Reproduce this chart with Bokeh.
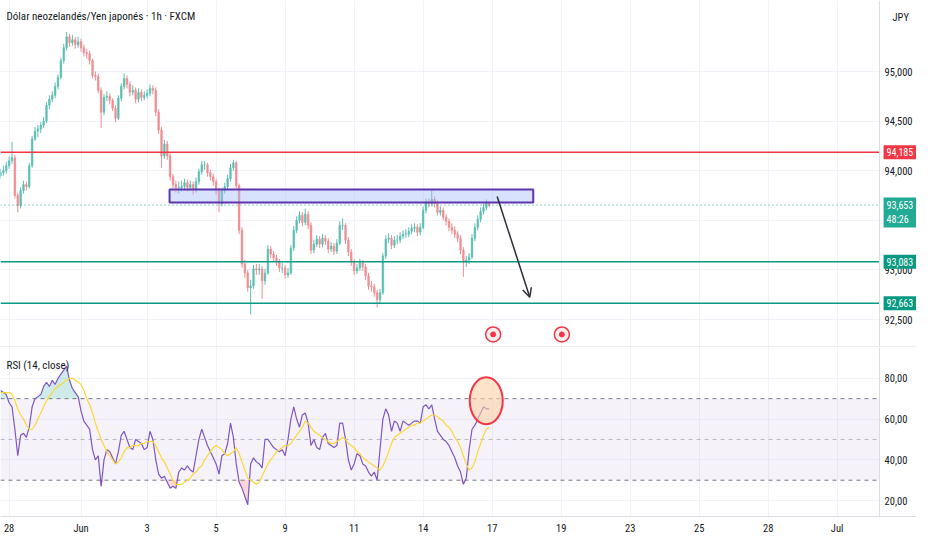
from bokeh.plotting import figure
from bokeh.layouts import column
from bokeh.models import (Range1d, FixedTicker, Label, Arrow, OpenHead,
                          CustomJSTickFormatter)
from bokeh.embed import file_html
from bokeh.resources import INLINE

# ---------------- data ----------------
BAR_HOURS = 2          # one candle = 2 hours
first_open = 93.95

close = [
    93.98, 94.00, 94.05, 94.10, 94.13, 93.75, 93.65, 93.80, 93.86, 93.84,
    94.05, 94.32, 94.40, 94.42, 94.46, 94.50, 94.66, 94.72, 94.76, 94.85,
    94.94, 95.11, 95.24, 95.35, 95.29, 95.32, 95.27, 95.30, 95.24, 95.19,
    95.18, 95.11, 94.96, 94.95, 94.81, 94.59, 94.74, 94.75, 94.71, 94.63,
    94.53, 94.73, 94.85, 94.93, 94.87, 94.79, 94.81, 94.72, 94.79, 94.74,
    94.76, 94.78, 94.83, 94.81, 94.59, 94.41, 94.15, 94.27, 94.15, 93.94,
    93.86, 93.83, 93.83, 93.84, 93.88, 93.83, 93.86, 93.81, 93.89, 93.99,
    94.06, 94.06, 93.98, 93.94, 93.89, 93.80, 93.67, 93.80, 93.84, 93.92,
    94.03, 94.08, 93.85, 93.40, 93.06, 92.97, 92.82, 92.84, 93.01, 93.00,
    93.01, 92.89, 92.97, 93.21, 93.16, 93.12, 93.08, 93.02, 93.02, 92.95,
    92.97, 93.22, 93.40, 93.50, 93.55, 93.48, 93.56, 93.45, 93.20, 93.26,
    93.31, 93.26, 93.32, 93.29, 93.21, 93.24, 93.19, 93.27, 93.45, 93.45,
    93.30, 93.18, 93.08, 92.99, 93.02, 93.07, 93.03, 92.94, 92.84, 92.83,
    92.77, 92.70, 92.77, 93.14, 93.31, 93.32, 93.25, 93.30, 93.30, 93.34,
    93.36, 93.36, 93.39, 93.42, 93.43, 93.38, 93.43, 93.60, 93.68, 93.67,
    93.71, 93.67, 93.58, 93.60, 93.53, 93.49, 93.43, 93.40, 93.36, 93.32,
    93.20, 93.08, 93.10, 93.13, 93.32, 93.43, 93.51, 93.59, 93.63, 93.67,
    93.653]

high = [
    94.02, 94.05, 94.09, 94.14, 94.29, 94.16, 93.78, 93.83, 93.90, 93.89,
    94.08, 94.35, 94.44, 94.46, 94.49, 94.54, 94.69, 94.76, 94.80, 94.89,
    94.97, 95.14, 95.28, 95.40, 95.38, 95.37, 95.35, 95.35, 95.33, 95.27,
    95.23, 95.21, 95.13, 95.00, 94.98, 94.84, 94.77, 94.80, 94.78, 94.73,
    94.66, 94.76, 94.88, 94.98, 94.96, 94.90, 94.86, 94.84, 94.83, 94.82,
    94.80, 94.82, 94.87, 94.86, 94.84, 94.62, 94.44, 94.31, 94.30, 94.18,
    93.97, 93.90, 93.89, 93.90, 93.92, 93.91, 93.90, 93.89, 93.93, 94.02,
    94.10, 94.10, 94.08, 94.01, 93.97, 93.92, 93.83, 93.83, 93.88, 93.96,
    94.07, 94.11, 94.10, 93.87, 93.43, 93.10, 93.00, 92.90, 93.05, 93.06,
    93.06, 93.04, 93.01, 93.25, 93.24, 93.19, 93.15, 93.11, 93.07, 93.05,
    93.02, 93.25, 93.44, 93.54, 93.59, 93.58, 93.62, 93.59, 93.48, 93.30,
    93.35, 93.34, 93.36, 93.35, 93.32, 93.28, 93.27, 93.31, 93.49, 93.52,
    93.47, 93.33, 93.21, 93.11, 93.06, 93.11, 93.10, 93.06, 92.97, 92.89,
    92.86, 92.80, 92.81, 93.17, 93.35, 93.37, 93.35, 93.34, 93.35, 93.38,
    93.40, 93.41, 93.43, 93.46, 93.47, 93.46, 93.47, 93.64, 93.72, 93.72,
    93.80, 93.74, 93.70, 93.64, 93.63, 93.56, 93.52, 93.47, 93.44, 93.39,
    93.35, 93.23, 93.14, 93.17, 93.36, 93.47, 93.55, 93.63, 93.67, 93.71,
    93.69]

low = [
    93.92, 93.95, 93.97, 94.02, 94.07, 93.72, 93.58, 93.62, 93.77, 93.80,
    93.82, 94.03, 94.30, 94.34, 94.38, 94.43, 94.48, 94.62, 94.69, 94.73,
    94.82, 94.92, 95.08, 95.21, 95.25, 95.26, 95.23, 95.24, 95.20, 95.15,
    95.13, 95.07, 94.93, 94.91, 94.78, 94.43, 94.56, 94.70, 94.67, 94.60,
    94.49, 94.51, 94.70, 94.82, 94.83, 94.75, 94.76, 94.68, 94.69, 94.70,
    94.71, 94.73, 94.75, 94.77, 94.55, 94.37, 94.03, 94.12, 94.11, 93.90,
    93.82, 93.78, 93.77, 93.79, 93.80, 93.79, 93.80, 93.76, 93.78, 93.86,
    93.96, 94.01, 93.94, 93.90, 93.85, 93.76, 93.58, 93.64, 93.77, 93.81,
    93.89, 94.00, 93.82, 93.36, 93.02, 92.92, 92.78, 92.55, 92.81, 92.95,
    92.95, 92.71, 92.85, 92.95, 93.12, 93.08, 93.04, 92.98, 92.97, 92.91,
    92.92, 92.95, 93.19, 93.37, 93.47, 93.44, 93.45, 93.41, 93.16, 93.17,
    93.23, 93.22, 93.23, 93.25, 93.17, 93.18, 93.15, 93.16, 93.25, 93.40,
    93.26, 93.14, 93.04, 92.95, 92.96, 92.99, 92.99, 92.90, 92.80, 92.78,
    92.73, 92.62, 92.66, 92.75, 93.11, 93.27, 93.21, 93.22, 93.26, 93.27,
    93.31, 93.32, 93.33, 93.36, 93.38, 93.34, 93.35, 93.41, 93.57, 93.63,
    93.64, 93.63, 93.55, 93.55, 93.50, 93.45, 93.39, 93.36, 93.32, 93.28,
    93.16, 92.93, 93.03, 93.06, 93.11, 93.29, 93.40, 93.48, 93.56, 93.60,
    93.63]

rsi = [
    74, 73, 72, 68, 66, 55, 42, 52, 53, 51,
    56, 66, 70, 71, 72, 76, 78, 76, 79, 77,
    80, 82, 84, 86, 79, 75, 73, 71, 64, 59,
    57, 55, 45, 40, 42, 27, 40, 45, 44, 41,
    38, 44, 52, 54, 50, 46, 45, 50, 49, 48,
    45, 46, 54, 50, 40, 33, 31, 32, 29, 26,
    27, 26, 34, 36, 35, 37, 35, 34, 42, 50,
    55, 51, 47, 44, 41, 38, 33, 42, 43, 48,
    58, 51, 38, 29, 26, 22, 18, 38, 41, 39,
    38, 36, 50, 50, 48, 46, 45, 44, 45, 42,
    50, 60, 66, 60, 56, 62, 63, 58, 47, 50,
    46, 45, 51, 53, 48, 47, 46, 47, 58, 58,
    50, 40, 35, 38, 43, 42, 38, 37, 34, 32,
    34, 30, 45, 60, 65, 62, 54, 59, 58, 54,
    59, 58, 57, 58, 59, 59, 58, 66, 67, 65,
    67, 60, 54, 52, 50, 49, 47, 44, 41, 37,
    34, 28, 31, 45, 55, 57, 60, 63, 66, 65,
    65]

rsi_ma = [
    73, 73, 73, 73, 72, 69, 65, 62, 60, 57,
    55, 55, 57, 60, 63, 66, 69, 71, 73, 75,
    76, 77, 78, 79, 80, 80, 79, 78, 77, 74,
    70, 67, 63, 58, 54, 50, 47, 44, 42, 40,
    38, 39, 41, 44, 46, 46, 47, 47, 47, 48,
    48, 49, 49, 49, 47, 44, 41, 39, 36, 33,
    30, 28, 28, 28, 29, 30, 31, 33, 34, 36,
    37, 40, 42, 44, 46, 47, 46, 45, 43, 42,
    43, 44, 46, 43, 39, 35, 31, 30, 29, 28,
    29, 32, 35, 38, 40, 42, 44, 45, 46, 47,
    47, 48, 50, 52, 54, 56, 59, 58, 56, 54,
    53, 52, 51, 50, 49, 48, 48, 49, 50, 51,
    50, 48, 47, 46, 44, 43, 41, 40, 39, 38,
    37, 36, 35, 37, 40, 44, 48, 51, 52, 53,
    54, 55, 56, 57, 57, 58, 58, 59, 60, 61,
    62, 62, 61, 60, 59, 57, 56, 54, 51, 49,
    46, 42, 38, 35, 36, 39, 44, 48, 52, 55,
    56]

x_tick_hours = [6, 56, 102, 150, 198, 246, 294, 342, 390, 438, 486, 534, 582]
x_tick_labels = ["28", "Jun", "3", "5", "9", "11", "14", "17", "19", "23", "25", "28", "Jul"]
price_ticks = [92.5, 93.0, 93.5, 94.0, 94.5, 95.0]
rsi_ticks = [20, 40, 60, 80]

title_text = "Dólar neozelandés/Yen japonés · 1h · FXCM"
currency_text = "JPY"
rsi_title = "RSI (14, close)"
resistance = 94.185
supports = [93.083, 92.663]
last_price = 93.653
countdown = "48:26"
zone = dict(left=117.6, right=370.6, bottom=93.68, top=93.81)
arrow_from = (345.5, 93.74)
arrow_to = (368.2, 92.725)
event_x = [342.7, 390.5]
event_price = 92.35
rsi_mark = (337.9, 69.0)

# ---------------- layout / style ----------------
FONT = "'Liberation Sans Narrow', 'Roboto Condensed', 'DejaVu Sans Condensed', 'Liberation Sans', sans-serif"
TXT = "#131722"
GRID = "#f0f3fa"
BORDER = "#dadde4"
UP = "#5cbfb2"
DOWN = "#f28c91"
RED = "#f23645"
GREEN = "#089981"
TEAL = "#22ab94"

FRAME_W = 916
MAIN_H = 347
RSI_H = 169
TIME_H = 18
X_AXIS = 611.5        # where the price scale begins (hours)
X_END = 637.2
PRICE_LO, PRICE_HI = 92.218, 95.716
RSI_LO, RSI_HI = 12.2, 95.1
TAG_X = 614.3

n = len(close)
xs = [i * BAR_HOURS for i in range(n)]
opens = [first_open] + close[:-1]
cols = [UP if c >= o else DOWN for o, c in zip(opens, close)]
tops = [max(o, c) for o, c in zip(opens, close)]
bots = [min(o, c) for o, c in zip(opens, close)]
his = [max(h, t) for h, t in zip(high, tops)]
los = [min(l, b) for l, b in zip(low, bots)]

fmt_price = CustomJSTickFormatter(code="return tick.toFixed(3).replace('.', ',');")
fmt_rsi = CustomJSTickFormatter(code="return tick.toFixed(2).replace('.', ',');")


def style_yaxis(fig, ticks, fmt):
    ax = fig.yaxis[0]
    ax.fixed_location = X_AXIS
    ax.ticker = FixedTicker(ticks=ticks)
    ax.formatter = fmt
    ax.major_tick_line_color = None
    ax.minor_tick_line_color = None
    ax.major_tick_out = 0
    ax.major_tick_in = 0
    ax.axis_line_color = BORDER
    ax.major_label_text_font = FONT
    ax.major_label_text_font_size = "10.5px"
    ax.major_label_text_color = TXT
    ax.major_label_standoff = 5


def hline(fig, levels, x1=X_AXIS, **kw):
    fig.segment(x0=[0] * len(levels), x1=[x1] * len(levels),
                y0=levels, y1=levels, **kw)


def cover_scale(fig, lo, hi):
    fig.quad(left=[X_AXIS], right=[X_END], bottom=[lo], top=[hi],
             fill_color="white", line_color=None)


# ---------------- price pane ----------------
p = figure(frame_width=FRAME_W, frame_height=MAIN_H,
           x_range=Range1d(0, X_END), y_range=Range1d(PRICE_LO, PRICE_HI),
           x_axis_location=None, y_axis_location="right",
           output_backend="svg", toolbar_location=None,
           min_border_left=0, min_border_right=0,
           min_border_top=0, min_border_bottom=0)
p.outline_line_color = None
p.background_fill_color = "white"
p.border_fill_color = "white"
p.xgrid.ticker = FixedTicker(ticks=x_tick_hours)
p.xgrid.grid_line_color = GRID
p.ygrid.grid_line_color = GRID
style_yaxis(p, price_ticks, fmt_price)

p.segment(x0=xs, y0=his, x1=xs, y1=los, line_color=cols, line_width=1)
p.vbar(x=xs, top=tops, bottom=bots, width=1.1, fill_color=cols,
       line_color=cols, line_width=0.6)

p.quad(left=[zone["left"]], right=[zone["right"]], bottom=[zone["bottom"]],
       top=[zone["top"]], fill_color="#9fb6f7", fill_alpha=0.4,
       line_color="#5e35b1", line_width=2)

hline(p, [resistance], line_color=RED, line_width=1.5)
hline(p, supports, line_color=GREEN, line_width=1.5)
hline(p, [last_price], line_color="#26a69a", line_width=1, line_dash="1 3")

ev_y = [event_price] * len(event_x)
p.scatter(x=event_x, y=ev_y, marker="circle", size=15, fill_color="#fbeef0",
          line_color=RED, line_width=1.5)
p.scatter(x=event_x, y=ev_y, marker="circle", size=5, fill_color=RED, line_color=RED)

cover_scale(p, PRICE_LO, PRICE_HI)
hline(p, [PRICE_LO], x1=X_END, line_color=BORDER, line_width=2)

p.add_layout(Arrow(end=OpenHead(size=9, line_color="#2a2e39", line_width=1.5),
                   x_start=arrow_from[0], y_start=arrow_from[1],
                   x_end=arrow_to[0], y_end=arrow_to[1],
                   line_color="#2a2e39", line_width=1.5))

p.add_layout(Label(x=4.2, y=95.554, text=title_text, text_font=FONT,
                   text_font_size="11px", text_color=TXT, text_baseline="middle"))
p.add_layout(Label(x=620.5, y=95.544, text=currency_text, text_font=FONT,
                   text_font_size="10.5px", text_color=TXT, text_baseline="middle"))


def tag(fig, y, text, color):
    fig.add_layout(Label(x=TAG_X, y=y, text=text, text_font=FONT,
                         text_font_size="10px", text_color="white",
                         text_baseline="middle", text_align="left",
                         background_fill_color=color, padding=3))


tag(p, resistance, f"{resistance:.3f}".replace(".", ","), RED)
tag(p, 93.579, f"{last_price:.3f}".replace(".", ",") + "\n" + countdown, TEAL)
for s in supports:
    tag(p, s, f"{s:.3f}".replace(".", ","), GREEN)

# ---------------- RSI pane ----------------
r = figure(frame_width=FRAME_W, frame_height=RSI_H,
           x_range=p.x_range, y_range=Range1d(RSI_LO, RSI_HI),
           y_axis_location="right", output_backend="svg", toolbar_location=None,
           min_border_left=0, min_border_right=0,
           min_border_top=0, min_border_bottom=TIME_H)
r.outline_line_color = None
r.background_fill_color = "white"
r.border_fill_color = "white"
r.xgrid.grid_line_color = GRID
r.ygrid.grid_line_color = GRID
style_yaxis(r, rsi_ticks, fmt_rsi)

xa = r.xaxis[0]
xa.ticker = FixedTicker(ticks=x_tick_hours)
xa.major_label_overrides = {h: lab for h, lab in zip(x_tick_hours, x_tick_labels)}
xa.major_tick_line_color = None
xa.minor_tick_line_color = None
xa.major_tick_out = 0
xa.major_tick_in = 0
xa.axis_line_color = BORDER
xa.major_label_text_font = FONT
xa.major_label_text_font_size = "10.5px"
xa.major_label_text_color = TXT
xa.major_label_standoff = 5

r.quad(left=[0], right=[X_AXIS], bottom=[30], top=[70],
       fill_color="#7e57c2", fill_alpha=0.08, line_color=None)

r.varea(x=xs, y1=[70] * n, y2=[max(v, 70) for v in rsi], fill_color="#26a69a", fill_alpha=0.22)
r.varea(x=xs, y1=[30] * n, y2=[min(v, 30) for v in rsi], fill_color=RED, fill_alpha=0.2)

hline(r, [70, 30], line_color="#787b86", line_width=1, line_dash="4 4")
hline(r, [50], line_color="#787b86", line_alpha=0.5, line_width=1, line_dash="4 4")

r.line(x=xs, y=rsi, line_color="#7e57c2", line_width=1.2)
r.line(x=xs, y=rsi_ma, line_color="#fdd835", line_width=1.2)

r.ellipse(x=[rsi_mark[0]], y=[rsi_mark[1]], width=33, height=47,
          width_units="screen", height_units="screen",
          fill_color="#fbd0a6", fill_alpha=0.6, line_color=RED, line_width=2)

cover_scale(r, RSI_LO, RSI_HI)

r.add_layout(Label(x=4.2, y=86.2, text=rsi_title, text_font=FONT,
                   text_font_size="11px", text_color=TXT, text_baseline="middle"))

layout = column(p, r, spacing=0)
open("out.html", "w").write(file_html(layout, INLINE))
